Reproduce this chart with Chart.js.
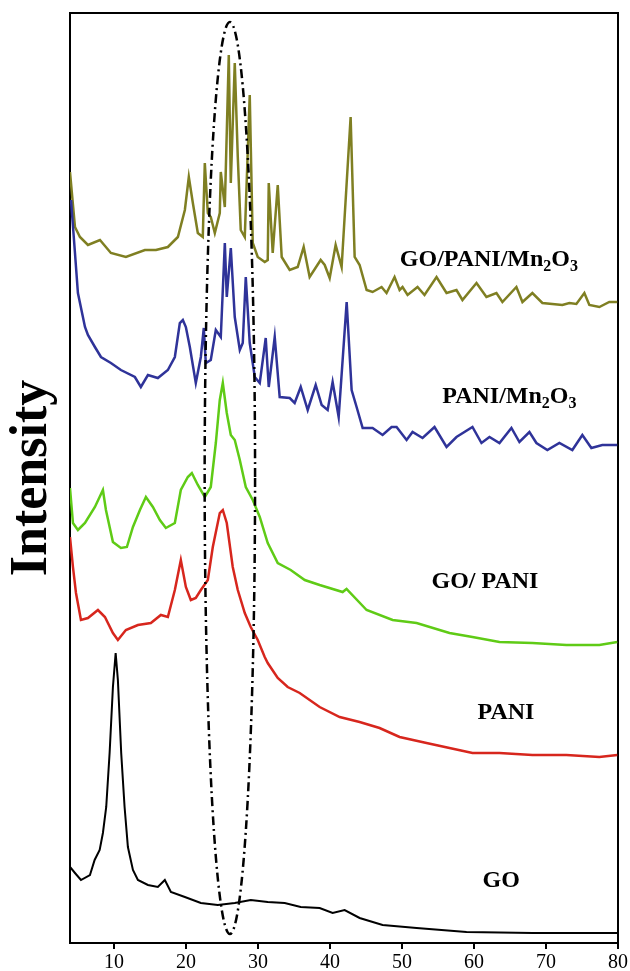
<!DOCTYPE html>
<html lang="en">
<head>
<meta charset="UTF-8">
<title>XRD patterns</title>
<script src="https://cdn.jsdelivr.net/npm/chart.js"></script>
<style>
  body { margin: 0; padding: 0; background: #fff; }
  #wrap { width: 630px; height: 971px; }
</style>
</head>
<body>
<div id="wrap"><canvas id="xrd" width="630" height="971"></canvas></div>
<script>
// 2-theta (deg) and stacked intensity (a.u.) for each pattern
const goX = [3.9, 4.59, 5.42, 6.67, 7.32, 8.02, 8.47, 8.93, 9.4, 9.86, 10.24, 10.55, 11.01, 11.48, 11.94, 12.64, 13.33, 14.72, 16.1, 17.07, 17.91, 19.85, 22.07, 24.42, 26.78, 29.0, 31.36, 33.72, 35.94, 38.57, 40.37, 42.04, 44.12, 47.31, 52.03, 58.96, 68.11, 79.9];
const goY = [76, 70, 63, 68, 83, 93, 110, 136, 190, 256, 290, 263, 190, 136, 96, 73, 63, 58, 56, 63, 51, 46, 40, 38, 40, 43, 41, 40, 36, 35, 30, 33, 25, 18, 15, 11, 10, 10];

const paniX = [3.9, 4.31, 4.73, 5.42, 6.39, 7.78, 8.75, 9.86, 10.55, 11.66, 13.33, 15.13, 16.52, 17.49, 18.46, 19.29, 19.99, 20.68, 21.37, 22.07, 23.04, 23.73, 24.7, 25.12, 25.67, 26.5, 27.2, 28.17, 29.0, 29.97, 30.94, 31.36, 32.75, 34.13, 35.8, 38.57, 41.35, 44.12, 46.89, 49.67, 53.41, 56.6, 59.79, 63.54, 68.11, 72.83, 77.41, 79.9];
const paniY = [406, 376, 350, 323, 325, 333, 326, 310, 303, 313, 318, 320, 328, 326, 353, 383, 356, 343, 345, 353, 363, 396, 430, 433, 420, 376, 353, 330, 316, 303, 286, 280, 265, 256, 250, 236, 226, 221, 215, 206, 200, 195, 190, 190, 188, 188, 186, 188];

const goPaniX = [3.9, 4.31, 5.0, 5.98, 7.36, 8.47, 8.89, 9.86, 10.97, 11.8, 12.64, 13.61, 14.44, 15.41, 16.38, 17.21, 18.46, 19.29, 20.26, 20.82, 21.65, 22.62, 23.45, 24.15, 24.7, 25.12, 25.67, 26.23, 26.78, 27.48, 28.31, 29.28, 30.25, 31.36, 32.75, 34.55, 36.5, 38.57, 41.76, 42.3, 45.09, 48.7, 52.03, 56.6, 59.79, 63.54, 68.11, 72.83, 77.41, 79.9];
const goPaniY = [455, 420, 413, 420, 436, 453, 433, 401, 395, 396, 416, 433, 446, 436, 423, 415, 420, 453, 466, 470, 458, 446, 456, 500, 543, 560, 530, 508, 503, 483, 456, 443, 426, 400, 380, 373, 363, 358, 351, 354, 333, 323, 320, 310, 306, 301, 300, 298, 298, 301];

const paniMnX = [4.04, 4.59, 5.0, 5.98, 6.39, 7.36, 8.2, 9.58, 10.97, 12.91, 13.74, 14.72, 16.1, 17.49, 18.46, 19.15, 19.57, 19.99, 20.54, 21.37, 22.07, 22.48, 22.76, 23.45, 24.15, 24.84, 25.4, 25.67, 26.23, 26.78, 27.48, 27.89, 28.31, 28.86, 29.56, 30.25, 31.08, 31.5, 32.33, 33.02, 34.41, 35.1, 35.94, 36.91, 38.02, 38.85, 39.68, 40.37, 41.21, 42.32, 43.01, 43.7, 44.54, 45.92, 47.31, 48.56, 49.25, 50.64, 51.47, 52.86, 54.52, 56.19, 57.57, 59.79, 61.04, 62.15, 63.54, 65.2, 66.31, 67.7, 68.67, 70.19, 71.86, 73.66, 75.05, 76.3, 77.82, 79.9];
const paniMnY = [743, 690, 650, 616, 608, 596, 586, 580, 573, 566, 556, 568, 565, 573, 586, 620, 623, 616, 596, 560, 586, 615, 580, 583, 613, 606, 700, 646, 695, 626, 593, 600, 666, 600, 566, 560, 605, 556, 606, 546, 545, 540, 556, 533, 558, 538, 533, 561, 526, 641, 553, 536, 515, 515, 508, 516, 516, 503, 511, 505, 516, 496, 506, 516, 500, 506, 500, 515, 501, 511, 500, 493, 500, 493, 508, 495, 498, 498];

const goPaniMnX = [3.9, 4.59, 5.28, 6.39, 8.06, 9.58, 11.66, 14.3, 15.83, 17.49, 18.88, 19.85, 20.4, 20.96, 21.65, 22.34, 22.62, 23.04, 23.45, 24.01, 24.7, 24.84, 25.4, 25.95, 26.23, 26.78, 27.2, 27.61, 28.17, 28.86, 29.28, 29.97, 30.94, 31.36, 31.5, 32.05, 32.75, 33.3, 34.41, 35.52, 36.35, 37.18, 38.71, 39.27, 39.96, 40.79, 41.62, 42.87, 43.43, 44.12, 45.09, 45.92, 47.17, 47.86, 48.97, 49.67, 50.08, 50.78, 52.16, 53.13, 54.8, 56.19, 57.57, 58.4, 60.35, 61.73, 63.12, 63.95, 65.89, 66.73, 68.11, 69.5, 72.27, 73.25, 74.22, 75.33, 76.02, 77.41, 78.79, 79.9];
const goPaniMnY = [771, 716, 706, 698, 703, 690, 686, 693, 693, 696, 706, 733, 766, 740, 710, 706, 780, 730, 726, 710, 730, 771, 736, 888, 760, 880, 786, 713, 706, 848, 700, 686, 681, 683, 760, 690, 758, 686, 673, 676, 696, 666, 683, 678, 665, 698, 676, 826, 686, 678, 653, 651, 656, 650, 666, 653, 656, 648, 656, 648, 666, 650, 653, 643, 660, 646, 650, 641, 656, 641, 650, 640, 638, 640, 639, 650, 638, 636, 641, 641];

const seriesNames = ['GO', 'PANI', 'GO/ PANI', 'PANI/Mn2O3', 'GO/PANI/Mn2O3'];
const seriesColors = ['#000000', '#d7261d', '#5fcb16', '#2f3399', '#7f7f22'];
const xTicks = [10, 20, 30, 40, 50, 60, 70, 80];

// in-plot labels: [text, subscript] parts, anchored at (2theta, intensity)
const labelParts = [
  [['GO/PANI/Mn', 0], ['2', 1], ['O', 0], ['3', 1]],
  [['PANI/Mn', 0], ['2', 1], ['O', 0], ['3', 1]],
  [['GO/ PANI', 0]],
  [['PANI', 0]],
  [['GO', 0]]
];
const labelX = [49.7, 55.6, 54.1, 60.5, 61.2];
const labelY = [677, 540, 355, 224, 56];

// dash-dot ellipse round the ~26 deg reflection
const ellipseCenter = [26.1, 465];
const ellipseRadii = [3.5, 456];

function pts(xs, ys) {
  return xs.map((v, i) => ({ x: v, y: ys[i] }));
}

const extras = {
  id: 'extras',
  beforeDatasetsDraw(chart) {
    const { ctx, chartArea: a } = chart;
    ctx.save();
    ctx.strokeStyle = '#000';
    ctx.lineWidth = 2;
    ctx.strokeRect(a.left, a.top, a.right - a.left, a.bottom - a.top);
    ctx.restore();
  },
  afterDatasetsDraw(chart) {
    const { ctx, scales: { x, y } } = chart;
    ctx.save();
    const cx = x.getPixelForValue(ellipseCenter[0]);
    const cy = y.getPixelForValue(ellipseCenter[1]);
    const rx = Math.abs(x.getPixelForValue(ellipseCenter[0] + ellipseRadii[0]) - cx);
    const ry = Math.abs(y.getPixelForValue(ellipseCenter[1] + ellipseRadii[1]) - cy);
    ctx.strokeStyle = '#000';
    ctx.lineWidth = 2.5;
    ctx.setLineDash([9, 4, 2, 4]);
    ctx.beginPath();
    ctx.ellipse(cx, cy, rx, ry, 0, 0, Math.PI * 2);
    ctx.stroke();
    ctx.setLineDash([]);

    ctx.fillStyle = '#000';
    ctx.textBaseline = 'alphabetic';
    labelParts.forEach((parts, i) => {
      let px = x.getPixelForValue(labelX[i]);
      const py = y.getPixelForValue(labelY[i]);
      parts.forEach(([t, sub]) => {
        ctx.font = sub ? 'bold 16px "Liberation Serif"' : 'bold 24px "Liberation Serif"';
        ctx.fillText(t, px, py + (sub ? 5 : 0));
        px += ctx.measureText(t).width;
      });
    });
    ctx.restore();
  }
};

const datasets = [goX, paniX, goPaniX, paniMnX, goPaniMnX].map((xs, i) => ({
  label: seriesNames[i],
  data: pts(xs, [goY, paniY, goPaniY, paniMnY, goPaniMnY][i]),
  borderColor: seriesColors[i],
  borderWidth: i === 0 ? 2 : 2.5,
  pointRadius: 0,
  tension: 0,
  fill: false
}));

new Chart(document.getElementById('xrd'), {
  type: 'line',
  data: { datasets: datasets },
  options: {
    responsive: false,
    animation: false,
    devicePixelRatio: 1,
    layout: { padding: { top: 13, right: 11, left: 0, bottom: 0 } },
    plugins: { legend: { display: false }, tooltip: { enabled: false } },
    scales: {
      x: {
        type: 'linear',
        min: 3.9,
        max: 80,
        afterBuildTicks: s => { s.ticks = xTicks.map(v => ({ value: v })); },
        afterFit: s => { s.height = 28; },
        grid: { drawOnChartArea: false, drawTicks: true, tickLength: 6, color: '#000', lineWidth: 2 },
        border: { display: false },
        ticks: { color: '#000', padding: 2, maxRotation: 0, font: { family: 'Liberation Serif', size: 20 } }
      },
      y: {
        type: 'linear',
        min: 0,
        max: 930,
        afterFit: s => { s.width = 70; },
        grid: { display: false },
        border: { display: false },
        ticks: { display: false },
        title: {
          display: true,
          text: 'Intensity',
          color: '#000',
          padding: { top: 1, bottom: 0 },
          font: { family: 'Liberation Serif', size: 52, weight: 'bold', lineHeight: 1.2 }
        }
      }
    }
  },
  plugins: [extras]
});
</script>
</body>
</html>
